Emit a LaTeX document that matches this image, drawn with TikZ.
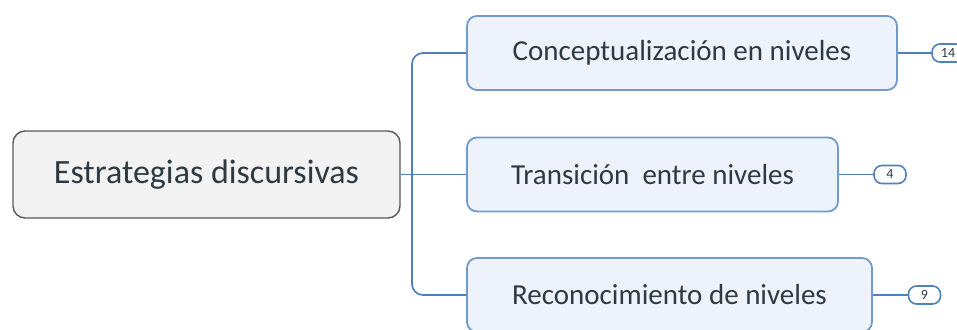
\documentclass[tikz,border=0pt]{standalone}
\usepackage{fontspec}
\setmainfont{Carlito}
\begin{document}
\begin{tikzpicture}[x=1pt,y=1pt,
  rootbox/.style={draw=black!65,fill=black!5,line width=1.4pt,rounded corners=12pt,
    minimum width=387pt,minimum height=87pt,font=\fontsize{34}{38}\selectfont,text=inktext,inner sep=0pt},
  topicbox/.style={draw=linkblue!80,fill=topicfill,line width=1.8pt,rounded corners=10pt,
    minimum height=74pt,font=\fontsize{29}{33}\selectfont,text=inktext,inner sep=0pt},
  countpill/.style={draw=linkblue,fill=white,line width=1.6pt,rounded corners=8pt,
    minimum width=32pt,minimum height=18pt,font=\fontsize{14}{15}\selectfont,text=inktext,inner sep=0pt},
  link/.style={draw=linkblue,line width=1.7pt}]
\definecolor{linkblue}{HTML}{4F81BD}
\definecolor{topicfill}{HTML}{EEF3FB}
\definecolor{inktext}{HTML}{2E3A42}
\useasboundingbox (0,0) rectangle (957,329);
\clip (0,0) rectangle (957,329);
\fill[white] (0,0) rectangle (957,329);

% central topic and its three branches
\node[rootbox] (root) at (206.5,154.5) {Estrategias discursivas};
\node[topicbox,minimum width=430pt] (c1) at (682,276) {Conceptualización en niveles};
\node[topicbox,minimum width=371pt] (c2) at (652.5,154.5) {Transición\ \ entre niveles};
\node[topicbox,minimum width=405pt] (c3) at (669.5,34) {Reconocimiento de niveles};
\coordinate (j) at (412,154.5);

% item counters
\node[countpill] (t1) at (948,276) {14};
\node[countpill] (t2) at (890,154.5) {4};
\node[countpill] (t3) at (924.5,34) {9};

% connectors
\draw[link] (root.east) -- (c2.west);
\draw[link,rounded corners=11pt] (c1.west) -- (c1.west -| j) -- (c3.west -| j) -- (c3.west);
\draw[link] (c1.east) -- (t1.west);
\draw[link] (c2.east) -- (t2.west);
\draw[link] (c3.east) -- (t3.west);
\end{tikzpicture}
\end{document}
